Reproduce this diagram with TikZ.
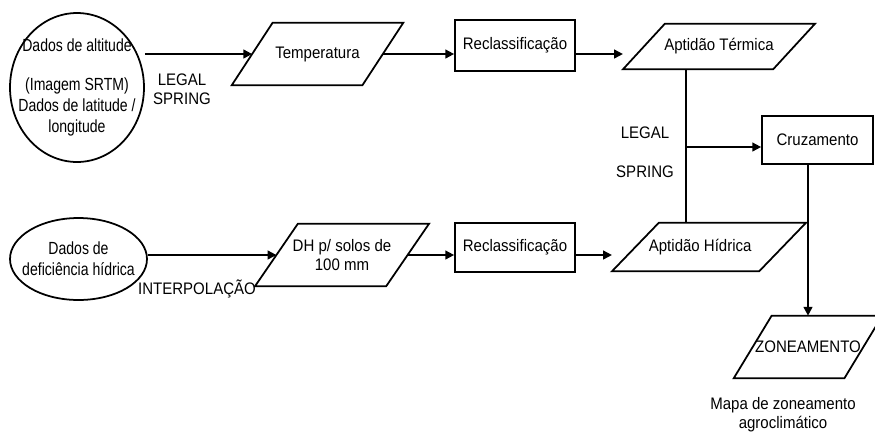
\documentclass[tikz,border=0pt]{standalone}
\usepackage{fontspec}
\setmainfont{Liberation Sans}[FakeStretch=0.9]
\newfontfamily\narrowfont{Liberation Sans}[FakeStretch=0.8]
\usetikzlibrary{shapes.geometric,arrows.meta,positioning}

\tikzset{
  flow/.style={line width=1pt, -{Triangle[length=5pt,width=5pt]}},
  link/.style={line width=1pt},
  process/.style={draw, line width=1pt, rectangle, minimum width=2.4cm, minimum height=1cm},
  datum/.style={rectangle, inner sep=0pt, align=center},
  source/.style={draw, line width=1pt, ellipse, inner sep=0pt},
  inside/.style={label={[align=center, font=\narrowfont]center:#1}},
}
% parallelogram round a datum node: #1 node, #2 half of the slant
\newcommand{\slantbox}[2]{%
  \coordinate (#1-bl) at ([xshift=-#2]#1.south west);
  \draw[line width=1pt] (#1-bl) -- ([xshift=#2]#1.north west)
    -- ([xshift=#2]#1.north east) -- ([xshift=-#2]#1.south east) -- cycle;}

\begin{document}
\begin{tikzpicture}[x=0.02cm, y=-0.02cm, font=\fontsize{9.5}{11}\selectfont]
\useasboundingbox (0,0) rectangle (875,437);
\clip (0,0) rectangle (875,437);

% upper row
\node (alt) [source, minimum width=2.68cm, minimum height=2.98cm,
  inside={Dados de altitude\\[10pt](Imagem SRTM)\\Dados de latitude /\\longitude}] at (77,87.5) {};
\node (temp) [datum, minimum width=2.6cm, minimum height=1.24cm] at (317.5,54) {Temperatura};
\slantbox{temp}{0.41cm}
\node (rec1) [process, minimum height=1.02cm] at (515,45.5) {Reclassificação};
\node (term) [datum, minimum width=2.99cm, minimum height=0.9cm] at (719,46.5) {Aptidão Térmica};
\slantbox{term}{0.42cm}

% lower row
\node (def) [source, minimum width=2.74cm, minimum height=1.64cm,
  inside={Dados de\\deficiência hídrica}] at (78.5,259) {};
\node (dh) [datum, minimum width=2.61cm, minimum height=1.24cm] at (342,255) {DH p/ solos de\\100 mm};
\slantbox{dh}{0.43cm}
\node (rec2) [process, minimum height=0.98cm] at (515,247.5) {Reclassificação};
\node (hid) [datum, minimum width=2.93cm, minimum height=0.96cm] at (709,247) {Aptidão Hídrica\hspace{10pt}};
\slantbox{hid}{0.47cm}

% cruzamento e resultado
\node (cruz) [process, minimum width=2.22cm, minimum height=0.96cm] at (817.5,140) {Cruzamento};
\node (zon) [datum, minimum width=2.2cm, minimum height=1.24cm] at (808,347) {ZONEAMENTO};
\slantbox{zon}{0.38cm}
\node (mapa) [align=center] at (783,415) {Mapa de zoneamento\\agroclimático};

% labels
\node (sw1) [align=center] at (182,89) {LEGAL\\SPRING};
\node (interp) at (197,289) {INTERPOLAÇÃO};
\node (sw2) [align=center] at (645,152) {LEGAL\\[11pt]SPRING};
\coordinate (jn) at (686,147);

% connectors
\draw[flow] (alt.east |- temp) -- (temp.west);
\draw[flow] (temp.east) -- (temp -| rec1.west);
\draw[flow] (rec1.east |- temp) -- (temp -| term-bl);
\draw[flow] (def.east |- dh) -- (dh.west);
\draw[flow] (dh.east) -- (dh -| rec2.west);
\draw[flow] (rec2.east |- dh) -- (dh -| hid-bl);
\draw[link] (jn |- term.south) -- (jn |- hid.north);
\draw[flow] (jn) -- (jn -| cruz.west);
\draw[flow] (zon |- cruz.south) -- (zon.north);
\end{tikzpicture}
\end{document}
